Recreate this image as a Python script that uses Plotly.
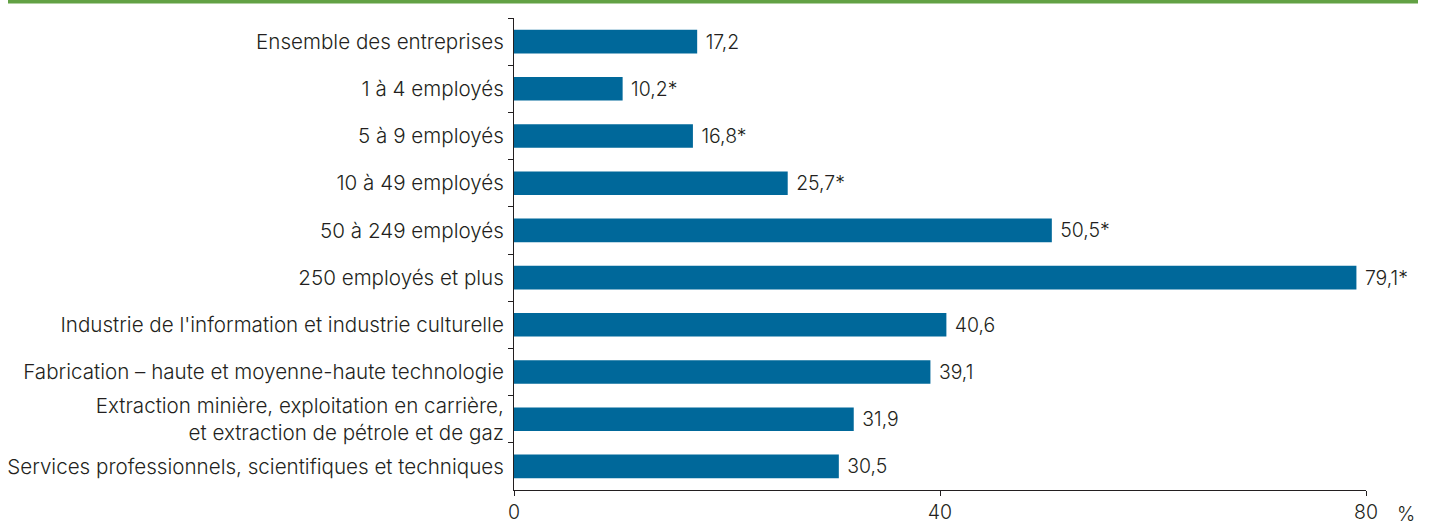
import plotly.graph_objects as go

categories = [
    "Ensemble des entreprises",
    "1 à 4 employés",
    "5 à 9 employés",
    "10 à 49 employés",
    "50 à 249 employés",
    "250 employés et plus",
    "Industrie de l'information et industrie culturelle",
    "Fabrication – haute et moyenne-haute technologie",
    "Extraction minière, exploitation en carrière,<br>et extraction de pétrole et de gaz",
    "Services professionnels, scientifiques et techniques",
]
values = [17.2, 10.2, 16.8, 25.7, 50.5, 79.1, 40.6, 39.1, 31.9, 30.5]
value_labels = ["17,2", "10,2*", "16,8*", "25,7*", "50,5*", "79,1*", "40,6", "39,1", "31,9", "30,5"]
x_ticks = [0, 40, 80]

FONT = "Inter"
FS = 20.6
FW = 300
TXT = "#231f20"

W, H = 1429, 525
L, R, T, B = 514, 63, 18, 35
PW, PH = W - L - R, H - T - B

fnt = dict(family=FONT, size=FS, color=TXT, weight=FW)
xfnt = dict(family=FONT, size=19.5, color=TXT, weight=FW)

fig = go.Figure(go.Bar(
    y=categories, x=values, orientation="h",
    text=value_labels, texttemplate="\u00a0%{text}", textposition="outside",
    textfont=fnt,
    marker=dict(color="#00689a", line=dict(width=0)),
    width=0.5, cliponaxis=False, hoverinfo="skip",
))

fig.update_layout(
    width=W, height=H,
    margin=dict(l=L, r=R, t=T, b=B, autoexpand=False),
    plot_bgcolor="white", paper_bgcolor="white",
    showlegend=False,
    font=fnt,
    xaxis=dict(range=[0, 80], tickvals=x_ticks, ticktext=[str(v) for v in x_ticks],
               showgrid=False, zeroline=False, showline=True, linecolor="#231f20", linewidth=1,
               ticks="outside", ticklen=5, tickcolor="#231f20", automargin=False,
               ticklabelstandoff=0, tickfont=xfnt),
    yaxis=dict(autorange="reversed", showgrid=False, zeroline=False,
               showline=True, linecolor="#231f20", linewidth=1,
               ticks="outside", ticklen=5, tickcolor="#231f20", tickson="boundaries",
               ticklabelstandoff=5, automargin=False, tickfont=fnt),
    shapes=[dict(type="line", xref="paper", yref="paper",
                 x0=(8 - L) / PW, x1=(1418 - L) / PW,
                 y0=(H - B - 1.5) / PH, y1=(H - B - 1.5) / PH,
                 line=dict(color="#62a144", width=4))],
    annotations=[dict(text="%", xref="paper", yref="paper",
                      x=(1406 - L) / PW, y=(H - B - 514) / PH, xanchor="center", yanchor="middle",
                      showarrow=False, font=xfnt)],
)

fig.write_html("out.html", config={"displayModeBar": False},
               post_script="document.body.style.margin='0';")
